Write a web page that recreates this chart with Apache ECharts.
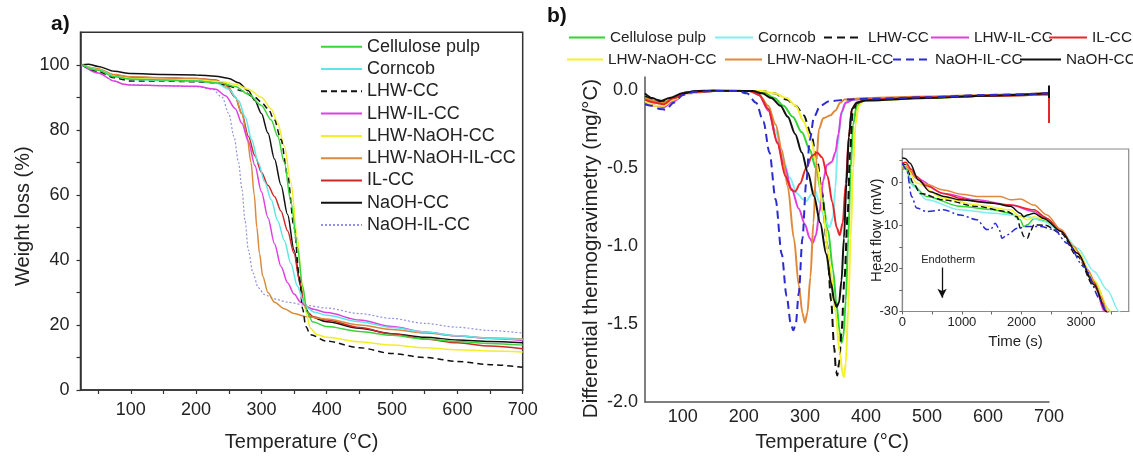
<!DOCTYPE html>
<html>
<head>
<meta charset="utf-8">
<script src="https://cdn.jsdelivr.net/npm/echarts@6/dist/echarts.min.js"></script>
<style>html,body{margin:0;padding:0;background:#fff}#c{width:1133px;height:457px}</style>
</head>
<body>
<div id="c"></div>
<script>
// ---------- names / ticks ----------
const names = ['Cellulose pulp','Corncob','LHW-CC','LHW-IL-CC','LHW-NaOH-CC','LHW-NaOH-IL-CC','IL-CC','NaOH-CC','NaOH-IL-CC'];
const ticksA_x = [100,200,300,400,500,600,700];
const minorA_x = [50,100,150,200,250,300,350,400,450,500,550,600,650,700];
const ticksA_y = [0,20,40,60,80,100];
const minorA_y = [0,10,20,30,40,50,60,70,80,90,100];
const ticksB_x = [100,200,300,400,500,600,700];
const ticksB_y = [-2,-1.5,-1,-0.5,0];
const ticksI_x = [0,1000,2000,3000];
const minorI_x = [0,500,1000,1500,2000,2500,3000,3500];
const ticksI_y = [-30,-20,-10,0];
const minorI_y = [-30,-25,-20,-15,-10,-5,0,5];

// ---------- a) TGA: [temperature, weight %] ----------
const tgaCellulose = [[25,100],[50,98.3],[75,96.3],[100,95.6],[150,95.3],[200,95],[240,94.3],[260,93.3],[280,91],[300,87.5],[315,83],[325,78],[335,70],[345,58],[355,44],[363,32],[370,24],[378,21],[400,19.5],[450,18],[500,16.8],[550,15.7],[600,14.9],[650,14.3],[700,13.8]];
const tgaCorncob = [[25,100],[50,98.5],[75,96.5],[100,95.5],[150,95.2],[200,95],[230,94.5],[250,92.5],[265,89],[275,84],[285,77],[295,70],[305,64],[315,58.5],[325,52],[335,46],[345,39],[355,32],[365,27],[372,25],[380,24],[400,23],[450,21],[500,19.2],[550,17.8],[600,16.7],[650,15.9],[700,15.5]];
const tgaLHW = [[25,100],[50,98],[75,96],[100,95],[150,95],[200,94.8],[230,94.5],[250,93.5],[270,92],[290,90],[300,88.5],[310,86.5],[320,83],[330,77],[340,66],[350,50],[358,35],[363,25],[368,19.5],[375,17],[400,15],[450,13],[500,11.2],[550,10],[600,8.8],[650,7.8],[700,7]];
const tgaLHWIL = [[25,100],[50,97.5],[75,95],[90,94],[100,93.8],[150,93.6],[200,93.4],[230,92.5],[245,90.5],[260,86.5],[270,82],[280,76.5],[290,69],[300,61],[310,53],[320,45],[330,38],[340,33],[350,29.5],[360,27],[370,25.5],[380,24.8],[400,23.8],[450,21.5],[500,19.5],[550,17.8],[600,16.6],[650,15.8],[700,15.2]];
const tgaLHWNaOH = [[25,100],[50,98.5],[75,96.5],[100,95.8],[150,95.5],[200,95.3],[240,94.8],[260,94],[280,92.5],[300,90],[315,86.5],[325,82],[335,75],[345,64],[355,47],[362,33],[368,24],[375,19],[385,17],[400,16.2],[450,14.8],[500,13.8],[550,13],[600,12.4],[650,12],[700,11.7]];
const tgaLHWNaOHIL = [[25,100],[50,98.8],[75,97],[100,96.3],[150,96],[200,95.8],[230,95.2],[250,93],[260,90],[270,85],[278,78],[284,70],[289,60],[293,50],[297,42],[302,35],[310,30],[320,27],[335,25],[350,23.5],[370,22.5],[400,21.8],[450,20],[500,18.6],[550,17.5],[600,16.6],[650,16],[700,15.7]];
const tgaIL = [[25,100],[50,98.5],[75,96.8],[100,96.2],[150,96],[200,95.8],[230,95.3],[245,94],[260,90],[270,85],[280,78],[290,72],[300,67],[310,63],[320,59.5],[330,55],[340,49],[350,42],[358,34],[365,27],[370,24],[380,22.5],[400,21.5],[450,19.2],[500,17.2],[550,15.7],[600,14.5],[650,13.5],[700,12.7]];
const tgaNaOH = [[25,100],[35,100.2],[50,99.5],[75,98],[100,97.3],[150,97],[200,96.9],[230,96.5],[250,95.8],[265,94.5],[280,92],[290,89],[300,85],[310,79],[320,71],[330,63],[340,54],[350,43],[360,32],[368,25],[375,22.5],[400,21],[450,19],[500,17.3],[550,16.2],[600,15.4],[650,14.9],[700,14.5]];
const tgaNaOHIL = [[25,100],[50,97.5],[75,95],[90,94],[100,93.8],[150,93.6],[200,93.3],[225,92.5],[240,90],[250,85],[258,78],[265,70],[270,62],[275,52],[280,43],[287,36],[295,31.5],[305,29.3],[320,28],[340,27],[370,26],[400,25.2],[450,23.5],[500,22],[550,20.5],[600,19.3],[650,18.3],[700,17.5]];

// ---------- b) DTG: [temperature, mg/°C] ----------
const dtgCellulose = [[38,-0.04],[55,-0.07],[68,-0.08],[85,-0.05],[105,-0.015],[150,-0.005],[220,-0.005],[235,-0.02],[250,-0.05],[265,-0.1],[280,-0.17],[295,-0.27],[308,-0.38],[318,-0.5],[328,-0.68],[338,-0.9],[346,-1.15],[352,-1.38],[357,-1.55],[360,-1.62],[363,-1.58],[367,-1.35],[371,-0.95],[375,-0.5],[379,-0.22],[385,-0.1],[395,-0.07],[400,-0.065],[500,-0.05],[600,-0.035],[700,-0.025]];
const dtgCorncob = [[38,-0.06],[55,-0.08],[68,-0.09],[85,-0.05],[105,-0.015],[150,-0.005],[210,-0.005],[225,-0.03],[240,-0.12],[252,-0.26],[263,-0.42],[275,-0.56],[287,-0.66],[297,-0.7],[303,-0.71],[310,-0.67],[316,-0.64],[324,-0.72],[333,-0.83],[340,-0.88],[346,-0.82],[350,-0.62],[354,-0.35],[359,-0.16],[366,-0.08],[380,-0.06],[400,-0.055],[500,-0.045],[600,-0.035],[700,-0.025]];
const dtgLHW = [[38,-0.04],[55,-0.06],[68,-0.07],[85,-0.05],[105,-0.015],[150,-0.005],[230,-0.005],[250,-0.02],[270,-0.06],[285,-0.1],[298,-0.16],[310,-0.28],[320,-0.45],[328,-0.65],[336,-0.98],[343,-1.35],[348,-1.65],[351,-1.8],[353,-1.83],[356,-1.75],[360,-1.55],[365,-1.2],[370,-0.8],[374,-0.4],[378,-0.15],[385,-0.08],[400,-0.06],[500,-0.045],[600,-0.035],[700,-0.025]];
const dtgLHWIL = [[38,-0.08],[55,-0.1],[68,-0.11],[85,-0.07],[105,-0.02],[150,-0.005],[210,-0.005],[225,-0.03],[240,-0.13],[255,-0.33],[265,-0.47],[278,-0.63],[290,-0.76],[300,-0.86],[308,-0.95],[313,-0.98],[318,-0.93],[324,-0.78],[330,-0.58],[336,-0.48],[344,-0.46],[350,-0.4],[355,-0.28],[360,-0.14],[367,-0.08],[380,-0.06],[400,-0.055],[500,-0.045],[600,-0.035],[700,-0.025]];
const dtgLHWNaOH = [[38,-0.07],[55,-0.1],[68,-0.1],[85,-0.06],[105,-0.02],[150,-0.005],[230,-0.005],[250,-0.02],[270,-0.05],[285,-0.1],[298,-0.2],[310,-0.32],[320,-0.48],[330,-0.78],[340,-1.1],[350,-1.42],[357,-1.68],[362,-1.82],[364,-1.84],[367,-1.75],[371,-1.4],[375,-0.95],[379,-0.5],[383,-0.22],[388,-0.1],[395,-0.07],[400,-0.065],[500,-0.05],[600,-0.035],[700,-0.025]];
const dtgLHWNaOHIL = [[38,-0.05],[55,-0.07],[68,-0.08],[85,-0.05],[105,-0.015],[150,-0.005],[210,-0.005],[225,-0.03],[240,-0.1],[252,-0.22],[262,-0.38],[272,-0.62],[282,-0.95],[290,-1.25],[296,-1.43],[300,-1.49],[304,-1.43],[309,-1.2],[314,-0.85],[319,-0.45],[323,-0.25],[330,-0.18],[342,-0.16],[350,-0.13],[358,-0.08],[365,-0.06],[400,-0.05],[500,-0.04],[600,-0.03],[700,-0.02]];
const dtgIL = [[38,-0.06],[55,-0.08],[68,-0.09],[85,-0.05],[105,-0.015],[150,-0.005],[210,-0.005],[225,-0.03],[240,-0.12],[255,-0.34],[268,-0.55],[278,-0.64],[284,-0.65],[292,-0.6],[302,-0.5],[312,-0.42],[320,-0.4],[328,-0.43],[337,-0.55],[345,-0.72],[352,-0.88],[357,-0.93],[362,-0.85],[367,-0.6],[372,-0.3],[377,-0.12],[385,-0.08],[400,-0.06],[500,-0.045],[600,-0.035],[700,-0.025]];
const dtgNaOH = [[38,-0.02],[50,-0.05],[63,-0.07],[78,-0.05],[100,-0.02],[120,-0.005],[150,-0.002],[215,-0.005],[230,-0.02],[245,-0.05],[260,-0.1],[272,-0.17],[284,-0.28],[295,-0.4],[305,-0.53],[315,-0.68],[325,-0.85],[335,-1.05],[343,-1.24],[348,-1.35],[352,-1.39],[356,-1.36],[360,-1.22],[364,-0.95],[368,-0.6],[372,-0.3],[377,-0.12],[385,-0.08],[400,-0.065],[500,-0.05],[600,-0.035],[700,-0.02]];
const dtgNaOHIL = [[38,-0.09],[50,-0.1],[62,-0.12],[72,-0.125],[85,-0.08],[100,-0.03],[120,-0.01],[150,-0.005],[190,-0.005],[205,-0.02],[220,-0.08],[232,-0.2],[242,-0.4],[252,-0.7],[262,-1.05],[270,-1.32],[277,-1.5],[281,-1.54],[285,-1.5],[290,-1.3],[296,-0.95],[302,-0.6],[308,-0.32],[315,-0.17],[325,-0.1],[340,-0.07],[370,-0.06],[400,-0.055],[500,-0.045],[600,-0.03],[700,-0.02]];
// vertical end-of-run spikes at 700 °C: [from, to]
const spikeIL = [-0.025,-0.21];
const spikeLHWIL = [-0.025,-0.17];
const spikeNaOH = [0.03,-0.05];

// ---------- inset: heat flow [time s, mW] ----------
const hfCellulose = [[0,2.9],[60,3.2],[160,-0.5],[410,-3.3],[970,-5.6],[1530,-6.4],[1815,-7.2],[1980,-8.7],[2040,-10.3],[2100,-9.9],[2210,-8.4],[2430,-9.1],[2660,-11.4],[2940,-16.1],[3220,-23],[3470,-29.6],[3520,-31.5]];
const hfCorncob = [[0,4],[60,4],[185,-1],[410,-4.1],[970,-6.4],[1530,-7.2],[1815,-7.6],[2100,-8],[2376,-9.1],[2660,-11.4],[2940,-15.3],[3220,-20.7],[3440,-25],[3640,-30],[3700,-31.5]];
const hfLHW = [[0,4.4],[60,4],[185,-0.2],[300,-2.6],[690,-4.1],[1250,-5.6],[1760,-6.8],[1930,-8],[1980,-10.7],[2040,-12.6],[2100,-13],[2150,-11.4],[2210,-9.9],[2400,-10],[2660,-11.8],[2940,-17.2],[3220,-24.2],[3440,-30],[3480,-31.5]];
const hfLHWIL = [[0,3.6],[60,3.8],[240,0.9],[690,-2.6],[1250,-4.1],[1815,-5.3],[2210,-6.8],[2376,-8],[2660,-11],[2940,-16.5],[3220,-23.4],[3390,-30],[3430,-31.5]];
const hfLHWNaOH = [[0,3.6],[60,3.8],[240,-0.2],[690,-3.7],[1250,-5.3],[1815,-6.4],[1980,-8],[2100,-8.7],[2210,-8],[2430,-8.7],[2660,-11.4],[2940,-16.1],[3220,-22.7],[3470,-29.6],[3520,-31.5]];
const hfLHWNaOHIL = [[0,3.2],[70,3.6],[150,2.5],[240,0.9],[400,-0.5],[690,-1.8],[1000,-2.8],[1250,-3.3],[1650,-3.3],[1815,-4.1],[1980,-3.9],[2210,-5.3],[2430,-7.6],[2660,-11],[2880,-14.9],[3110,-20.3],[3330,-26.5],[3440,-30],[3480,-31.5]];
const hfIL = [[0,4.4],[60,4.6],[150,3],[240,1.3],[400,-0.8],[690,-2.6],[1000,-3.8],[1250,-4.5],[1815,-5.3],[2210,-6.4],[2430,-8.4],[2660,-11.4],[2940,-16.5],[3220,-23.4],[3420,-30],[3460,-31.5]];
const hfNaOH = [[0,5.6],[50,5.5],[130,4.4],[270,0.5],[466,-2.2],[700,-3.3],[970,-4.1],[1530,-4.9],[1815,-5.6],[1980,-7.2],[2040,-8],[2100,-7.6],[2210,-7.2],[2376,-8.4],[2660,-11.4],[2940,-16.5],[3220,-23.8],[3420,-30],[3460,-31.5]];
const hfNaOHIL = [[0,4.4],[73,2.9],[157,-3.3],[240,-6],[410,-6.8],[690,-6.4],[970,-7.6],[1250,-8.7],[1420,-11],[1480,-11],[1560,-9.5],[1620,-10.7],[1675,-13],[1760,-12.2],[1930,-10.7],[2100,-10.3],[2320,-10.3],[2545,-11],[2770,-14.2],[3050,-19.6],[3330,-27.3],[3420,-30],[3460,-31.5]];
const endoLabel = [770,-18];
const endoArrow = [[668,-19.8],[668,-26.8]];

// ---------- styles ----------
const FONT = "'Liberation Sans', Arial, Helvetica, sans-serif";
const TXT = '#222';
const colA = {'Cellulose pulp':'#3ad43a','Corncob':'#5ee6e6','LHW-CC':'#111111','LHW-IL-CC':'#e040e0','LHW-NaOH-CC':'#f2ee2a','LHW-NaOH-IL-CC':'#dc8a3a','IL-CC':'#cc2a2a','NaOH-CC':'#111111','NaOH-IL-CC':'#9292e2'};
const colB = {'Cellulose pulp':'#2fd62f','Corncob':'#80eeee','LHW-CC':'#111111','LHW-IL-CC':'#e03ce0','LHW-NaOH-CC':'#f4f02a','LHW-NaOH-IL-CC':'#e0893a','IL-CC':'#e8262a','NaOH-CC':'#111111','NaOH-IL-CC':'#2b2bd0'};
const tga = [tgaCellulose,tgaCorncob,tgaLHW,tgaLHWIL,tgaLHWNaOH,tgaLHWNaOHIL,tgaIL,tgaNaOH,tgaNaOHIL];
const dtg = [dtgCellulose,dtgCorncob,dtgLHW,dtgLHWIL,dtgLHWNaOH,dtgLHWNaOHIL,dtgIL,dtgNaOH,dtgNaOHIL];
const hf = [hfCellulose,hfCorncob,hfLHW,hfLHWIL,hfLHWNaOH,hfLHWNaOHIL,hfIL,hfNaOH,hfNaOHIL];
const spikes = {'IL-CC':spikeIL,'LHW-IL-CC':spikeLHWIL,'NaOH-CC':spikeNaOH};

function dashA(n){ if(n==='LHW-CC') return [6,4]; if(n==='NaOH-IL-CC') return [2,2]; return 'solid'; }
function dashB(n){ if(n==='LHW-CC') return [8,5]; if(n==='NaOH-IL-CC') return [8,5]; return 'solid'; }
function dashI(n){ if(n==='LHW-CC') return [6,3]; if(n==='NaOH-IL-CC') return [7,3,2,3]; return 'solid'; }

const series = [];
names.forEach((n,i)=>{
  series.push({name:n, type:'line', xAxisIndex:0, yAxisIndex:0, data:tga[i], symbol:'none', smooth:0.3, smoothMonotone:'x',
    lineStyle:{color:colA[n], width:n==='NaOH-IL-CC'?1.2:1.5, type:dashA(n)}, itemStyle:{color:colA[n]}, z:names.length-i+2});
});
names.forEach((n,i)=>{
  const s = {name:'b:'+n, type:'line', xAxisIndex:1, yAxisIndex:1, data:dtg[i], symbol:'none', smooth:0.3, smoothMonotone:'x',
    lineStyle:{color:colB[n], width:2, type:dashB(n)}, itemStyle:{color:colB[n]}};
  if (spikes[n]) {
    s.markLine = {silent:true, symbol:['none','none'], animation:false, label:{show:false},
      lineStyle:{color:colB[n], width:2, type:'solid'},
      data:[[{coord:[700, spikes[n][0]]},{coord:[700, spikes[n][1]]}]]};
  }
  series.push(s);
});
names.forEach((n,i)=>{
  const s = {name:'i:'+n, type:'line', xAxisIndex:2, yAxisIndex:2, data:hf[i], symbol:'none', smooth:0.3, smoothMonotone:'x',
    lineStyle:{color:colB[n], width:1.5, type:dashI(n)}, itemStyle:{color:colB[n]}};
  series.push(s);
});
// annotation in inset
series.push({name:'endo', type:'line', xAxisIndex:2, yAxisIndex:2, data:[], symbol:'none',
  markLine:{silent:true, symbol:['none','arrow'], symbolSize:[7,9], label:{show:false}, lineStyle:{color:'#111', width:1.3, type:'solid'},
    data:[[{coord:endoArrow[0]},{coord:endoArrow[1]}]]},
  markPoint:{silent:true, symbol:'circle', symbolSize:0, label:{show:true, position:'inside', formatter:'Endotherm', color:TXT, fontSize:11, fontFamily:FONT},
    data:[{coord:endoLabel}]}
});

const legendA = {orient:'vertical', left:320, top:37.7, padding:0, itemWidth:41, itemHeight:14, itemGap:4.3, selectedMode:false,
  itemStyle:{opacity:0},
  textStyle:{fontSize:18, color:TXT, fontFamily:FONT, lineHeight:18}, data:names};
// panel b legend items [name, left, row, line length]
const legendB = [['Cellulose pulp',568,0,36],['Corncob',714,0,38],['LHW-CC',823,0,39],['LHW-IL-CC',930,0,38],['IL-CC',1048,0,38],
  ['LHW-NaOH-CC',566,1,36],['LHW-NaOH-IL-CC',724,1,37],['NaOH-IL-CC',892,1,37],['NaOH-CC',1019,1,41]];
const rowTop = [29.5, 51.5];
const legends = [legendA].concat(legendB.map(([n,l,r,w])=>({left:l, top:rowTop[r], padding:0, itemWidth:w, itemHeight:14, selectedMode:false,
  itemStyle:{opacity:0},
  textStyle:{fontSize:15.3, color:TXT, fontFamily:FONT, lineHeight:16}, data:['b:'+n], formatter:(s)=>s.replace(/^b:/,'')})));

const axisTxt = {color:TXT, fontFamily:FONT};
const plain = (v)=>String(Math.round(v));
const option = {
  animation:false,
  backgroundColor:'#fff',
  title:[
    {text:'a)', left:51, top:14, padding:0, textStyle:{fontSize:21, fontWeight:'bold', color:'#111', fontFamily:FONT}},
    {text:'b)', left:547, top:6, padding:0, textStyle:{fontSize:21, fontWeight:'bold', color:'#111', fontFamily:FONT}}
  ],
  legend: legends,
  grid:[
    {left:80.5, top:32.3, width:442.2, height:360, show:true, borderColor:'#333', borderWidth:1.5, backgroundColor:'transparent'},
    {left:645, top:77, width:404, height:328.7},
    {left:902.3, top:149, width:226.4, height:162.5, show:true, borderColor:'#8a8a8a', borderWidth:1.2, backgroundColor:'#fff'}
  ],
  xAxis:[
    {type:'value', gridIndex:0, min:23, max:700,
     axisLine:{onZero:false, lineStyle:{color:'#333', width:1.5}},
     axisTick:{show:true, customValues:minorA_x, length:4, lineStyle:{color:'#333', width:1.2}},
     axisLabel:{customValues:ticksA_x, fontSize:18, margin:11, formatter:plain, ...axisTxt},
     splitLine:{show:false},
     name:'Temperature (°C)', nameLocation:'middle', nameGap:42, nameTextStyle:{fontSize:20, ...axisTxt}},
    {type:'value', gridIndex:1, min:38, max:700,
     axisLine:{onZero:false, lineStyle:{color:'#555', width:1.5}},
     axisTick:{show:false},
     axisLabel:{customValues:ticksB_x, fontSize:18, margin:6, formatter:plain, ...axisTxt},
     splitLine:{show:false},
     name:'Temperature (°C)', nameLocation:'middle', nameGap:30, nameTextStyle:{fontSize:20, padding:[0,30,0,0], ...axisTxt}},
    {type:'value', gridIndex:2, min:0, max:3800,
     axisLine:{onZero:false, lineStyle:{color:'#8a8a8a', width:1.2}},
     axisTick:{show:true, customValues:minorI_x, length:3, lineStyle:{color:'#666', width:1}},
     axisLabel:{customValues:ticksI_x, fontSize:13, margin:4, formatter:plain, ...axisTxt},
     splitLine:{show:false},
     name:'Time (s)', nameLocation:'middle', nameGap:23, nameTextStyle:{fontSize:15, ...axisTxt}}
  ],
  yAxis:[
    {type:'value', gridIndex:0, min:0, max:110,
     axisLine:{onZero:false, lineStyle:{color:'#333', width:1.5}},
     axisTick:{show:true, customValues:minorA_y, length:4, lineStyle:{color:'#333', width:1.2}},
     axisLabel:{customValues:ticksA_y, fontSize:18, margin:11, formatter:plain, ...axisTxt},
     splitLine:{show:false},
     name:'Weight loss (%)', nameLocation:'middle', nameGap:47, nameTextStyle:{fontSize:20, padding:[0,10,0,0], ...axisTxt}},
    {type:'value', gridIndex:1, min:-2, max:0.085,
     axisLine:{onZero:false, lineStyle:{color:'#555', width:1.5}},
     axisTick:{show:false},
     axisLabel:{customValues:ticksB_y, fontSize:18, margin:7, formatter:(v)=>Number(v).toFixed(1), ...axisTxt},
     splitLine:{show:false},
     name:'Differential thermogravimetry (mg/°C)', nameLocation:'middle', nameGap:43, nameTextStyle:{fontSize:20.5, padding:[0,18,0,0], ...axisTxt}},
    {type:'value', gridIndex:2, min:-30, max:7.7,
     axisLine:{onZero:false, lineStyle:{color:'#8a8a8a', width:1.2}},
     axisTick:{show:true, customValues:minorI_y, length:3, lineStyle:{color:'#666', width:1}},
     axisLabel:{customValues:ticksI_y, fontSize:13, margin:4, formatter:plain, ...axisTxt},
     splitLine:{show:false},
     name:'Heat flow (mW)', nameLocation:'middle', nameGap:18, nameMoveOverlap:false, nameTextStyle:{fontSize:15, ...axisTxt}}
  ],
  series: series
};
const chart = echarts.init(document.getElementById('c'), null, {renderer:'canvas'});
chart.setOption(option);
</script>
</body>
</html>
